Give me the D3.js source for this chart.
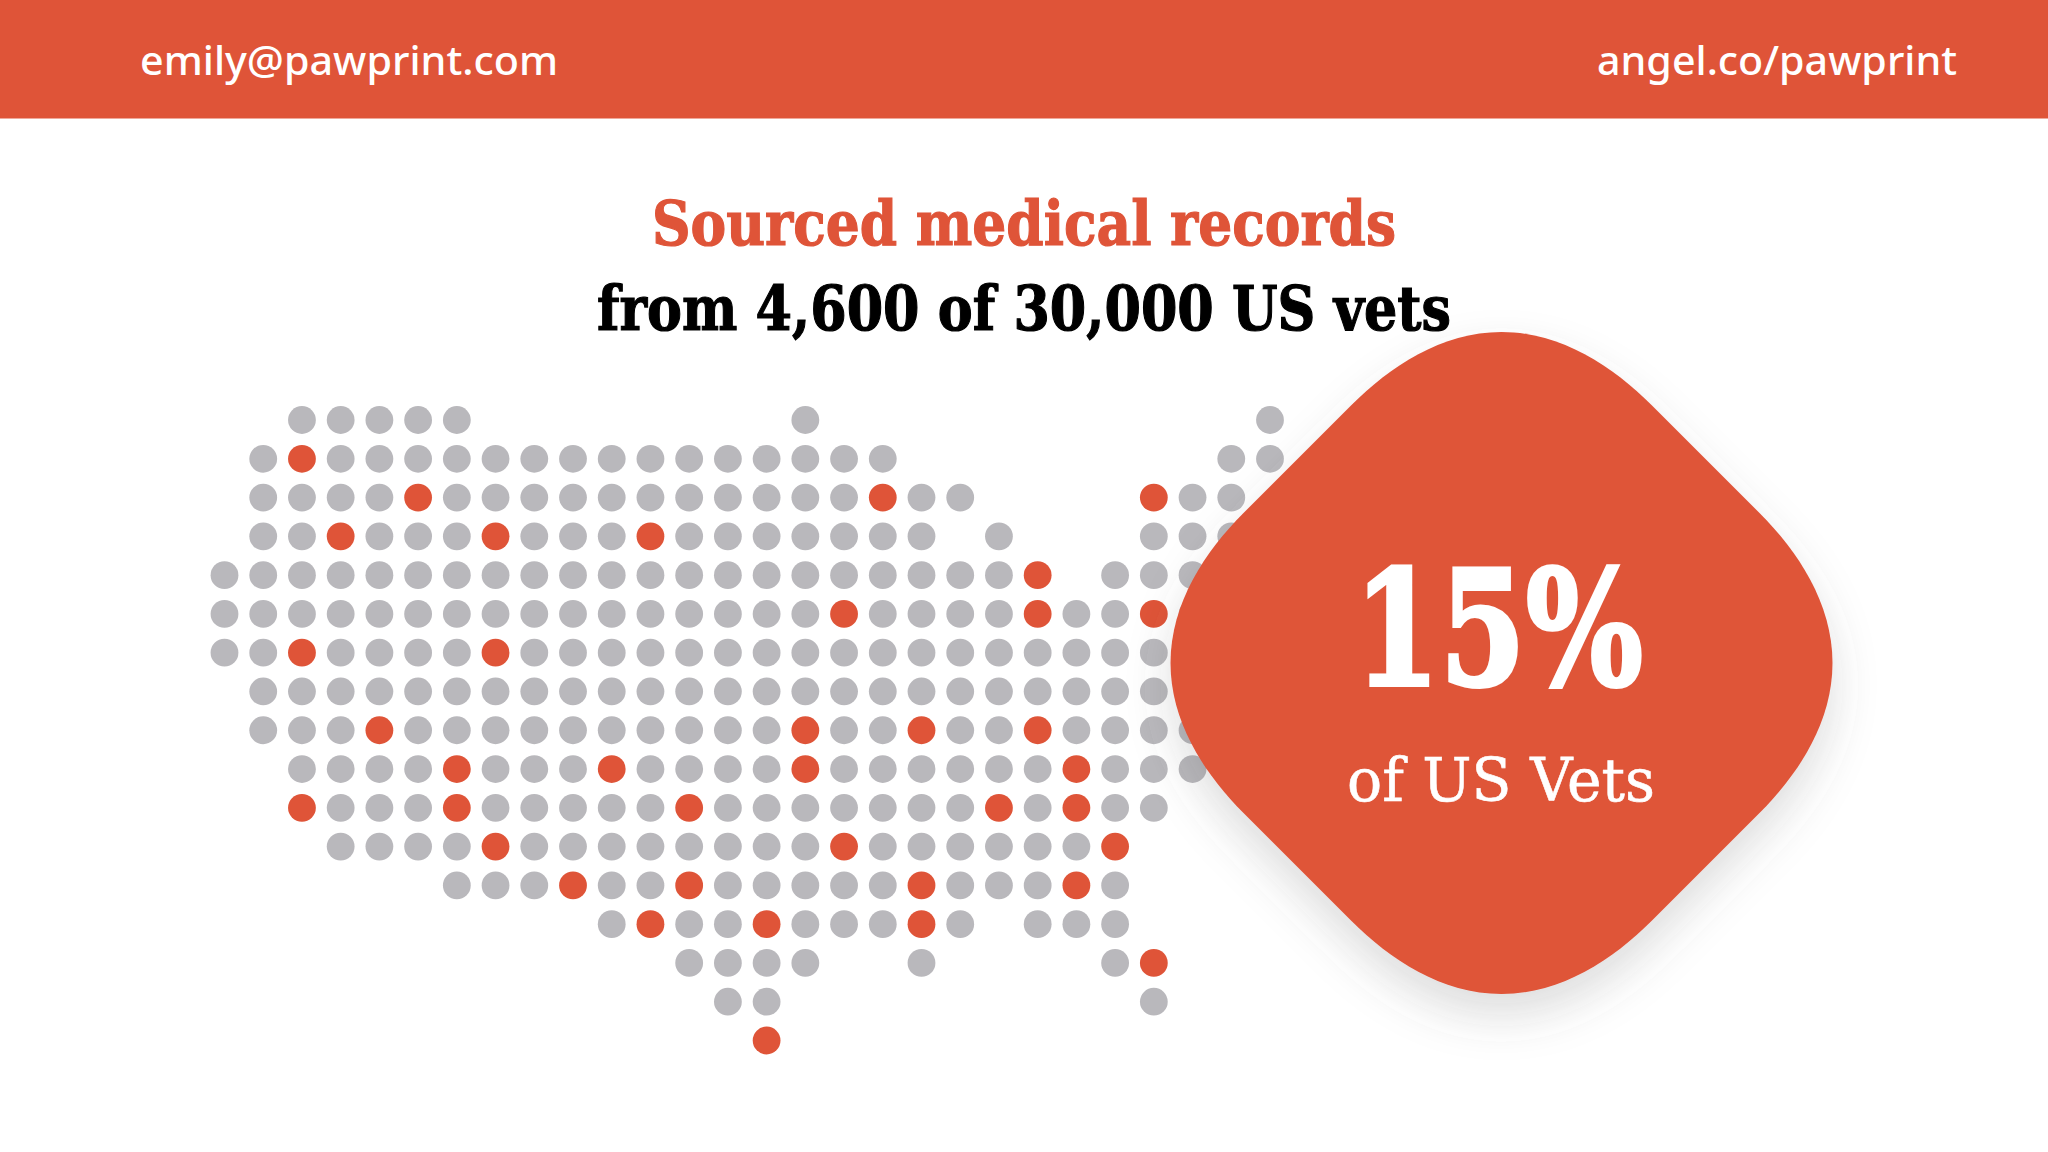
<!DOCTYPE html>
<html>
<head>
    <meta charset="utf-8">
    <!-- Load d3.js -->
    <script src="https://d3js.org/d3.v7.min.js"></script>
    <style>
        html, body { margin: 0; padding: 0; background: #fff; overflow: hidden; }
    </style>
</head>

<body>
    <div id="my_dataviz"></div>

    <script>

        // dot map: one entry per row, each [first column, last column] of a run of dots
        var rowRuns = [
            [[2, 6], [15, 15], [27, 27]],
            [[1, 17], [26, 27]],
            [[1, 19], [24, 26]],
            [[1, 18], [20, 20], [24, 26]],
            [[0, 21], [23, 25]],
            [[0, 25]],
            [[0, 25]],
            [[1, 25]],
            [[1, 25]],
            [[2, 25]],
            [[2, 24]],
            [[3, 23]],
            [[6, 23]],
            [[10, 19], [21, 23]],
            [[12, 15], [18, 18], [23, 24]],
            [[13, 14], [24, 24]],
            [[14, 14]]
        ];

        // columns of the red dots, same row order
        var redColumns = [
            [],
            [2],
            [5, 17, 24],
            [3, 7, 11],
            [21],
            [16, 21, 24],
            [2, 7],
            [],
            [4, 15, 18, 21],
            [6, 10, 15, 22],
            [2, 6, 12, 20, 22],
            [7, 16, 23],
            [9, 12, 18, 22],
            [11, 14, 18],
            [24],
            [],
            [14]
        ];

        var headerTexts = ["emily@pawprint.com", "angel.co/pawprint"];
        var titleLines = ["Sourced medical records", "from 4,600 of 30,000 US vets"];
        var statValue = "15%";
        var statLabel = "of US Vets";

        var width = 2048, height = 1152;
        var orange = "#df5438", grey = "#b9b8bc";
        var slab = "'DejaVu Serif', serif";
        var sans = "'Noto Sans', sans-serif";

        var svg = d3.select("#my_dataviz")
            .append("svg")
            .attr("width", width)
            .attr("height", height)
            .style("display", "block");

        // soft shadow under the badge
        var shadow = svg.append("defs").append("filter")
            .attr("id", "badge-shadow")
            .attr("x", "-30%").attr("y", "-30%")
            .attr("width", "160%").attr("height", "160%");
        shadow.append("feDropShadow")
            .attr("dx", 0).attr("dy", 22)
            .attr("stdDeviation", 22)
            .attr("flood-color", "#555558")
            .attr("flood-opacity", 0.2);

        // header band
        svg.append("rect")
            .attr("width", width)
            .attr("height", 118.5)
            .attr("fill", orange);

        // stroke thickens the glyphs, the fallback serif is lighter than the original slab
        function addText(str, x, y, size, weight, family, fill, length, thicken) {
            return svg.append("text")
                .attr("x", x)
                .attr("y", y)
                .attr("font-family", family)
                .attr("font-size", size)
                .attr("font-weight", weight)
                .attr("fill", fill)
                .attr("stroke", thicken ? fill : "none")
                .attr("stroke-width", thicken || 0)
                .attr("textLength", length)
                .attr("lengthAdjust", "spacingAndGlyphs")
                .text(str);
        }

        addText(headerTexts[0], 140, 75, 40, 500, sans, "#fff", 418);
        addText(headerTexts[1], 1597, 75, 40, 500, sans, "#fff", 360);

        addText(titleLines[0], 652, 244.5, 62, 700, slab, orange, 744, 1.2);
        addText(titleLines[1], 597, 329.5, 62, 700, slab, "#000", 854, 1.2);

        // scales for the dot grid
        var x = d3.scaleLinear().domain([0, 27]).range([224.5, 1270]);
        var y = d3.scaleLinear().domain([0, 16]).range([420, 1040.5]);

        // expand runs into dots
        var dots = [];
        rowRuns.forEach(function (runs, row) {
            runs.forEach(function (run) {
                d3.range(run[0], run[1] + 1).forEach(function (col) {
                    dots.push({ row: row, col: col, red: redColumns[row].indexOf(col) >= 0 });
                });
            });
        });

        svg.append("g")
            .selectAll("circle")
            .data(dots)
            .join("circle")
            .attr("cx", function (d) { return x(d.col); })
            .attr("cy", function (d) { return y(d.row); })
            .attr("r", 13.9)
            .attr("fill", function (d) { return d.red ? orange : grey; });

        // badge: rounded diamond, one side repeated four times around the centre
        var cx = 1501.5, cy = 663;
        var side = [[60, -331], [112, -296], [150, -258], [258, -150], [296, -112], [331, -60], [331, 0]];
        function turn(p, k) {
            var a = p[0], b = p[1];
            for (var i = 0; i < k; i++) { var t = a; a = -b; b = t; }
            return [cx + a, cy + b];
        }
        var badge = d3.path();
        badge.moveTo(cx, cy - 331);
        d3.range(4).forEach(function (k) {
            var p = side.map(function (s) { return turn(s, k); });
            badge.bezierCurveTo(p[0][0], p[0][1], p[1][0], p[1][1], p[2][0], p[2][1]);
            badge.lineTo(p[3][0], p[3][1]);
            badge.bezierCurveTo(p[4][0], p[4][1], p[5][0], p[5][1], p[6][0], p[6][1]);
        });
        badge.closePath();

        svg.append("path")
            .attr("d", badge.toString())
            .attr("fill", orange)
            .attr("filter", "url(#badge-shadow)");

        addText(statValue, 1354, 685, 160, 700, slab, "#fff", 289, 4);
        addText(statLabel, 1347, 800.5, 60, 400, slab, "#fff", 308, 0.6);

    </script>
</body>

</html>
